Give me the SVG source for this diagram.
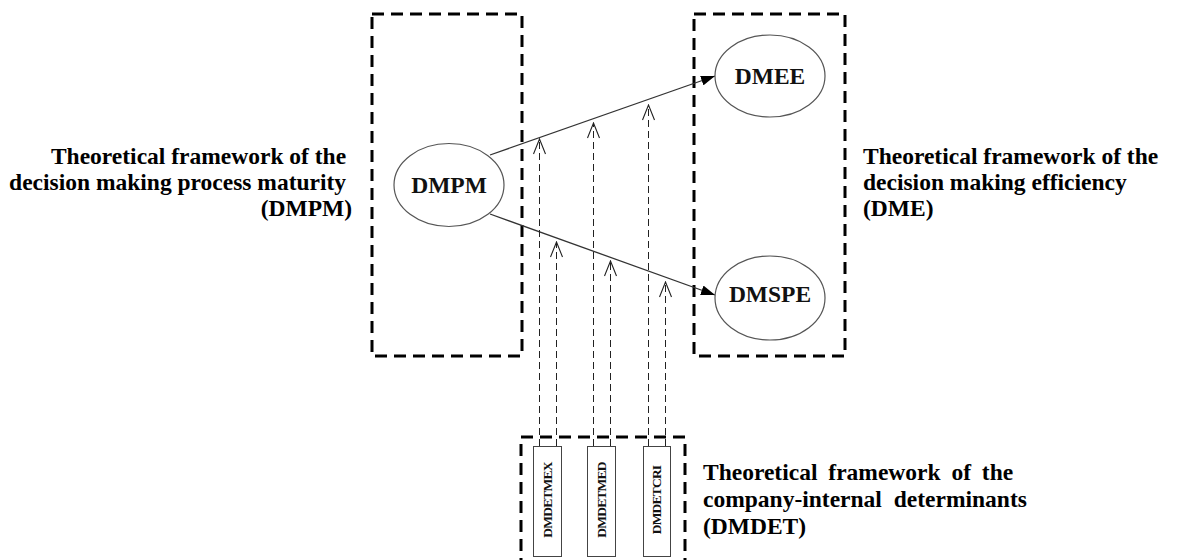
<svg xmlns="http://www.w3.org/2000/svg" width="1181" height="560" viewBox="0 0 1181 560">
  <style>
    .frame { fill: none; stroke: #000; stroke-width: 3; stroke-dasharray: 12 7; }
    .node { fill: #fff; stroke: #555; stroke-width: 1.2; }
    .det { fill: #fff; stroke: #444; stroke-width: 1; }
    .lbl { font-family: "Liberation Serif", "Times New Roman", serif; font-weight: bold; font-size: 23.5px; fill: #000; }
    .nlbl { font-family: "Liberation Serif", "Times New Roman", serif; font-weight: bold; font-size: 23.5px; fill: #111; text-anchor: middle; }
    .dlbl { font-family: "Liberation Serif", "Times New Roman", serif; font-weight: bold; font-size: 13.5px; fill: #111; text-anchor: middle; letter-spacing: -0.8px; }
    .flow { stroke: #333; stroke-width: 1.3; fill: none; marker-end: url(#solidHead); }
    .infl { stroke: #222; stroke-width: 1; stroke-dasharray: 7 4; fill: none; marker-end: url(#openHead); }
  </style>
  <defs>
    <marker id="solidHead" markerUnits="userSpaceOnUse" markerWidth="14" markerHeight="10" refX="14" refY="5" orient="auto">
      <path d="M0,0 L14,5 L0,10 z" fill="#000"/>
    </marker>
    <marker id="openHead" markerUnits="userSpaceOnUse" markerWidth="17" markerHeight="14" refX="15.5" refY="6.5" orient="auto">
      <path d="M0.5,0.5 L15.5,6.5 L0.5,12.5" fill="none" stroke="#222" stroke-width="1.1"/>
    </marker>
  </defs>

  <rect width="1181" height="560" fill="#fff"/>

  <!-- framework boxes -->
  <g id="dmpm-frame">
    <rect class="frame" x="372" y="14" width="150" height="342"/>
    <text class="lbl" text-anchor="end">
      <tspan x="352" y="164">Theoretical framework of the</tspan>
      <tspan x="352" y="190">decision making process maturity</tspan>
      <tspan x="352" y="216">(DMPM)</tspan>
    </text>
  </g>
  <g id="dme-frame">
    <rect class="frame" x="694" y="14" width="151" height="342"/>
    <text class="lbl">
      <tspan x="863" y="164">Theoretical framework of the</tspan>
      <tspan x="863" y="190">decision making efficiency</tspan>
      <tspan x="863" y="216">(DME)</tspan>
    </text>
  </g>
  <g id="dmdet-frame">
    <rect class="frame" x="521" y="437" width="164" height="140"/>
    <text class="lbl">
      <tspan x="703" y="480" word-spacing="5">Theoretical framework of the</tspan>
      <tspan x="703" y="507" word-spacing="6">company-internal determinants</tspan>
      <tspan x="703" y="534">(DMDET)</tspan>
    </text>
  </g>

  <!-- connectors -->
  <g id="connectors">
    <line class="flow" x1="490" y1="155" x2="715" y2="76"/>
    <line class="flow" x1="490" y1="214" x2="715" y2="295"/>
    <line class="infl" x1="539.5" y1="446" x2="539.5" y2="139"/>
    <line class="infl" x1="556.5" y1="446" x2="556.5" y2="242"/>
    <line class="infl" x1="593.5" y1="446" x2="593.5" y2="123"/>
    <line class="infl" x1="610.5" y1="446" x2="610.5" y2="261"/>
    <line class="infl" x1="648.5" y1="446" x2="648.5" y2="105"/>
    <line class="infl" x1="665.5" y1="446" x2="665.5" y2="282"/>
  </g>

  <!-- nodes -->
  <g id="DMPM">
    <ellipse class="node" cx="449" cy="185" rx="55" ry="41.5"/>
    <text class="nlbl" x="449" y="193">DMPM</text>
  </g>
  <g id="DMEE">
    <ellipse class="node" cx="770" cy="76" rx="55" ry="41"/>
    <text class="nlbl" x="770" y="84">DMEE</text>
  </g>
  <g id="DMSPE">
    <ellipse class="node" cx="770" cy="298" rx="55" ry="42"/>
    <text class="nlbl" x="770" y="302">DMSPE</text>
  </g>
  <g id="DMDETMEX">
    <rect class="det" x="533.5" y="446.5" width="28" height="110"/>
    <text class="dlbl" transform="translate(551.5 500) rotate(-90)">DMDETMEX</text>
  </g>
  <g id="DMDETMED">
    <rect class="det" x="587.5" y="446.5" width="28" height="110"/>
    <text class="dlbl" transform="translate(606 500) rotate(-90)">DMDETMED</text>
  </g>
  <g id="DMDETCRI">
    <rect class="det" x="643.5" y="446.5" width="27" height="110"/>
    <text class="dlbl" transform="translate(661 500) rotate(-90)">DMDETCRI</text>
  </g>
</svg>
